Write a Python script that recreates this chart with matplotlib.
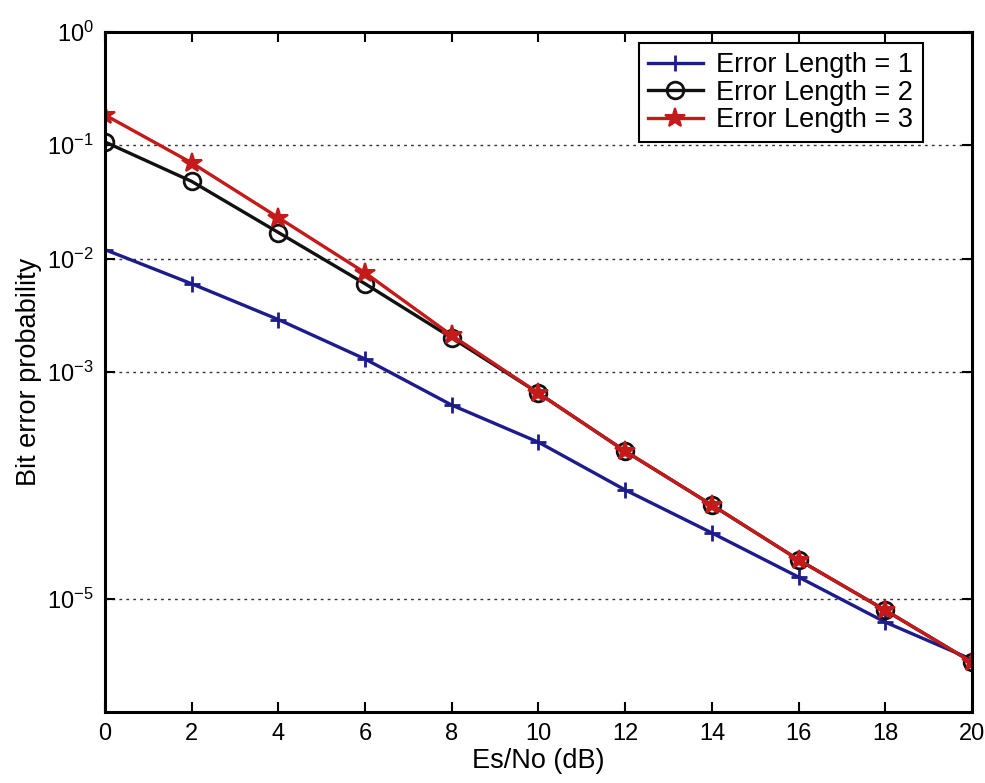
# BER vs Es/No for different error lengths
# log-scale plot, matlab style

import numpy as np
import matplotlib
matplotlib.use('Agg')
import matplotlib.pyplot as plt

plt.rcParams['font.family'] = ['Liberation Sans', 'DejaVu Sans']
plt.rcParams['mathtext.fontset'] = 'custom'
plt.rcParams['mathtext.rm'] = 'Liberation Sans'
plt.rcParams['mathtext.it'] = 'Liberation Sans'
plt.rcParams['mathtext.default'] = 'regular'

# data
es_no = [0, 2, 4, 6, 8, 10, 12, 14, 16, 18, 20]
ber_len1 = [1.2e-2, 6.0e-3, 2.9e-3, 1.3e-3, 5.1e-4, 2.4e-4, 9.1e-5, 3.8e-5, 1.55e-5, 6.2e-6, 2.9e-6]
ber_len2 = [1.07e-1, 4.8e-2, 1.7e-2, 6.0e-3, 2.0e-3, 6.5e-4, 2.0e-4, 6.7e-5, 2.2e-5, 7.9e-6, 2.75e-6]
ber_len3 = [1.85e-1, 7.0e-2, 2.3e-2, 7.5e-3, 2.1e-3, 6.5e-4, 2.0e-4, 6.7e-5, 2.2e-5, 7.9e-6, 2.75e-6]
labels = ['Error Length = 1', 'Error Length = 2', 'Error Length = 3']

y_ticks = [1e0, 1e-1, 1e-2, 1e-3, 1e-5]
y_tick_labels = [r'$10^{0}$', r'$10^{-1}$', r'$10^{-2}$', r'$10^{-3}$', r'$10^{-5}$']
x_ticks = [0, 2, 4, 6, 8, 10, 12, 14, 16, 18, 20]

fs_tick = 17
fs_lab = 19.5

fig = plt.figure(figsize=(9.85, 7.83), dpi=100)
ax = fig.add_axes([0.1066, 0.0907, 0.8802, 0.8685])

ax.semilogy(es_no, ber_len1, color='#1c1c8c', lw=2.4, marker='+', ms=11, mew=2, label=labels[0])
ax.semilogy(es_no, ber_len2, color='#111111', lw=2.4, marker='o', ms=12, mew=2,
            mfc='none', label=labels[1])
ax.semilogy(es_no, ber_len3, color='#c41a1a', lw=2.4, marker='*', ms=15, mew=1.5, label=labels[2])

ax.set_xlim(0, 20)
ax.set_ylim(1e-6, 1e0)
ax.set_xticks(x_ticks)
ax.set_xticklabels([str(v) for v in x_ticks], fontsize=fs_tick)
ax.set_yticks(y_ticks)
ax.set_yticklabels(y_tick_labels, fontsize=fs_tick)
ax.yaxis.set_minor_locator(matplotlib.ticker.NullLocator())

# only horizontal dotted grid
ax.grid(True, axis='y', linestyle=(0, (2, 3)), color='#333333', lw=1.0)

ax.tick_params(direction='in', top=True, right=True, length=7, width=1.5, pad=8)
for sp in ax.spines.values():
    sp.set_linewidth(2.2)

ax.set_xlabel('Es/No (dB)', fontsize=fs_lab, labelpad=2)
ax.set_ylabel('Bit error probability', fontsize=fs_lab, labelpad=4)

leg = ax.legend(loc='upper right', bbox_to_anchor=(0.943, 0.984), fontsize=fs_lab,
                fancybox=False, edgecolor='black', framealpha=1, labelspacing=0.05,
                handlelength=2.0, handletextpad=0.5, borderpad=0.35, borderaxespad=0)
leg.get_frame().set_linewidth(1.5)

plt.savefig('out.png', dpi=100)
